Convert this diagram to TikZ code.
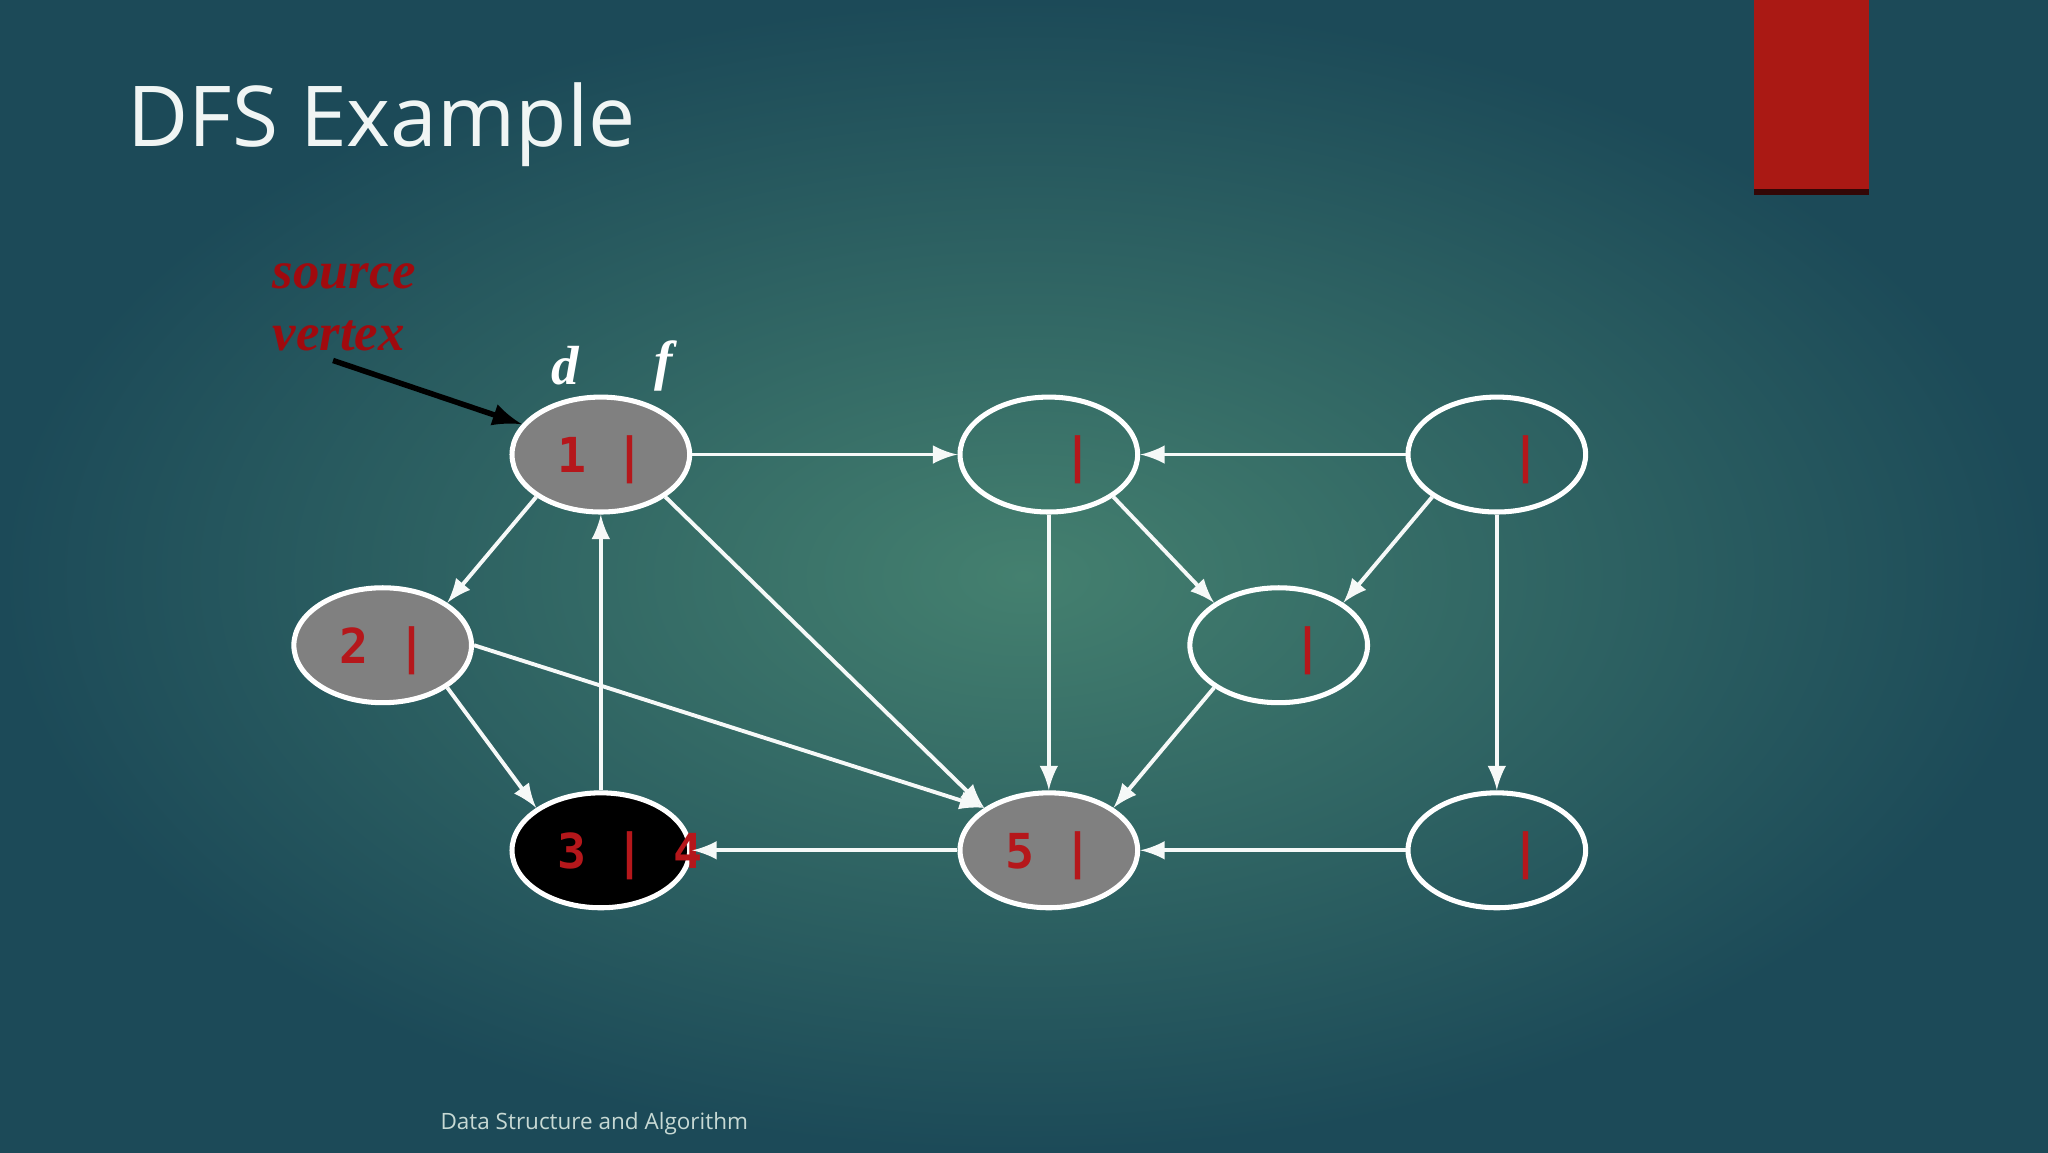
\documentclass[tikz,border=0pt]{standalone}
\usepackage{fontspec}
\setmainfont{Liberation Serif}
\newfontfamily\titlefont{Open Sans}
\newfontfamily\numfont{DejaVu Sans Mono}
\definecolor{bgin}{HTML}{44806F}
\definecolor{bgout}{HTML}{1C4A58}
\definecolor{numred}{HTML}{B5171B}
\definecolor{srcred}{HTML}{A00A0E}
\definecolor{barred}{HTML}{AA1914}
\definecolor{nodegray}{HTML}{808080}
\tikzset{
  vtx/.style={ellipse, draw=white, line width=1.1pt, minimum width=1.36cm,
    minimum height=0.88cm, inner sep=0pt, text=numred, text depth=0pt,
    font=\numfont\bfseries\fontsize{10.5}{13}\selectfont},
  gray/.style={fill=nodegray},
  done/.style={fill=black},
  edge/.style={draw=white!95!bgin, line width=0.85pt, -latex}
}
\usetikzlibrary{shapes.geometric}

\begin{document}
\begin{tikzpicture}
      \useasboundingbox (0,0) rectangle (15.68,8.82);
      \shade[inner color=bgin, outer color=bgout] (0,0) rectangle (15.68,8.82);
      \fill[barred] (13.43,7.35) rectangle (14.31,8.82);
      \draw[black!70!barred, line width=1.2pt] (13.43,7.35) -- (14.31,7.35);

      \draw (0.97,7.70) node[anchor=base west, inner sep=0pt, text=white!92!bgin,
        font=\titlefont\fontsize{18.3}{22}\selectfont] (title) {DFS Example};

      % vertices
      \draw (4.60,5.34) node[vtx,gray] (one) {1 |};
      \draw (8.03,5.34) node[vtx] (topmid) {\phantom{0} |};
      \draw (11.46,5.34) node[vtx] (topright) {\phantom{0} |};
      \draw (2.93,3.88) node[vtx,gray] (two) {2 |};
      \draw (9.79,3.88) node[vtx] (midright) {\phantom{0} |};
      \draw (4.60,2.31) node[vtx,done] (three) {3 |\rlap{ 4}};
      \draw (8.03,2.31) node[vtx,gray] (five) {5 |};
      \draw (11.46,2.31) node[vtx] (botright) {\phantom{0} |};

      \draw (4.33,6.02) node[text=white, font=\fontsize{12}{14}\selectfont\bfseries\itshape] (dlbl) {d};
      \draw (5.08,6.02) node[text=white, font=\fontsize{12}{14}\selectfont\bfseries\itshape] (flbl) {f};

      \draw (2.08,6.47) node[anchor=west, inner sep=0pt, align=left, text=srcred,
        font=\fontsize{11.5}{13.5}\selectfont\bfseries\itshape] (srclbl) {source\\vertex};
      \coordinate (srctail) at (2.55,6.06);
      \draw [black, line width=1.2pt, -latex] (srctail) -- (one.159);

      \draw [edge] (one.east) -- (topmid.west);
      \draw [edge] (topright.west) -- (topmid.east);
      \draw [edge] (one.south west) -- (two.north east);
      \draw [edge] (two.south east) -- (three.north west);
      \draw [edge] (three.north) -- (one.south);
      \draw [edge] (one.south east) -- (five.north west);
      \draw [edge] (two.east) -- (five.north west);
      \draw [edge] (topmid.south) -- (five.north);
      \draw [edge] (topmid.south east) -- (midright.north west);
      \draw [edge] (topright.south west) -- (midright.north east);
      \draw [edge] (midright.south west) -- (five.north east);
      \draw [edge] (topright.south) -- (botright.north);
      \draw [edge] (botright.west) -- (five.east);
      \draw [edge] (five.west) -- (three.east);

      \draw (4.55,0.22) node[text=white!70!bgin, font=\titlefont\fontsize{4.9}{6}\selectfont] (footer) {Data Structure and Algorithm};
\end{tikzpicture}
\end{document}
